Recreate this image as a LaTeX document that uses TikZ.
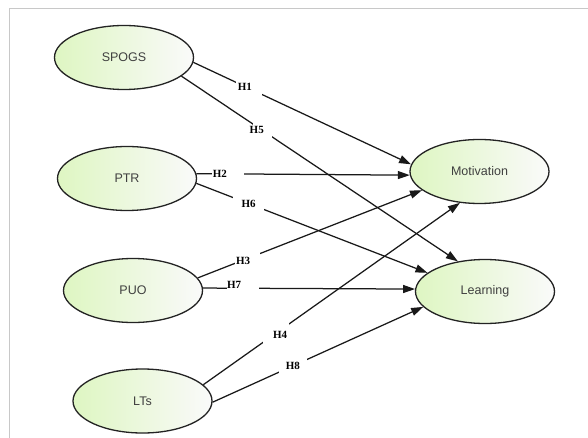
\documentclass[tikz,border=0pt]{standalone}
\usepackage{fontspec}
\setmainfont{Liberation Sans}
\newfontfamily\hfont{Liberation Serif}
\usetikzlibrary{shapes.geometric,arrows.meta}
\definecolor{construct}{RGB}{222,246,194}
\definecolor{constructend}{RGB}{250,250,250}
\definecolor{inktext}{RGB}{64,64,64}
\definecolor{outline}{RGB}{35,35,35}
\definecolor{framegray}{RGB}{200,200,200}
\begin{document}
\begin{tikzpicture}[x=1pt,y=-1pt,
  construct/.style={ellipse, draw=outline, line width=1.3pt,
    left color=construct, right color=constructend,
    minimum width=139pt, minimum height=64pt, inner sep=0pt,
    font=\fontsize{12.5}{14}\selectfont, text=inktext},
  path/.style={line width=1.25pt, draw=black!90,
    -{Triangle[length=12pt,width=8pt]}},
  gapbox/.style n args={2}{fill=white, inner sep=0pt,
    minimum width=#1, minimum height=#2, sloped=false},
  hyp/.style={inner sep=0pt, font=\hfont\bfseries\fontsize{11}{12}\selectfont, text=black},
]
% page and frame
\useasboundingbox[fill=white] (0,0) rectangle (588,438);
\draw[framegray, line width=1pt] (9,438) -- (9,9) -- (588,9);

% constructs
\node[construct] (spogs) at (124,57.5)  {SPOGS};
\node[construct] (ptr)   at (127,178.5) {PTR};
\node[construct] (puo)   at (133,290.5) {PUO};
\node[construct] (lts)   at (142.5,401) {LTs};
\node[construct] (mot)   at (479.5,171.5) {Motivation};
\node[construct] (learn) at (485,291.5) {Learning};

% hypothesised paths
\draw[path] (spogs.-4) -- node[gapbox={26pt}{15pt}, pos=.255]{}
  node[hyp, pos=.255, xshift=-4pt, yshift=1pt]{H1} (mot.174);
\draw[path] (spogs.-18.6) -- node[gapbox={19pt}{16pt}, pos=.292]{}
  node[hyp, pos=.292, xshift=-5.5pt]{H5} (learn.132.6);
\draw[path] (ptr.4) -- node[gapbox={32pt}{4pt}, pos=.15]{}
  node[hyp, pos=.15, xshift=-8.5pt, yshift=.5pt]{H2} (mot.183);
\draw[path] (ptr.-4) -- node[gapbox={31pt}{15pt}, pos=.226]{}
  node[hyp, pos=.226]{H6} (learn.162.9);
\draw[path] (puo.11.9) -- node[gapbox={25pt}{12.5pt}, pos=.2225]{}
  node[hyp, pos=.2225, xshift=-4.5pt, yshift=-2.9pt]{H3} (mot.198.7);
\draw[path] (puo.2.9) -- node[gapbox={32pt}{4pt}, pos=.189]{}
  node[hyp, pos=.189, xshift=-9pt, yshift=3.4pt]{H7} (learn.178);
\draw[path] (lts.15.5) -- node[gapbox={26pt}{21pt}, pos=.284]{}
  node[hyp, pos=.284, xshift=4pt, yshift=-1.7pt]{H4} (mot.238.2);
\draw[path] (lts.-1) -- node[gapbox={28pt}{15.5pt}, pos=.381]{}
  node[hyp, pos=.381]{H8} (learn.194.9);
\end{tikzpicture}
\end{document}
